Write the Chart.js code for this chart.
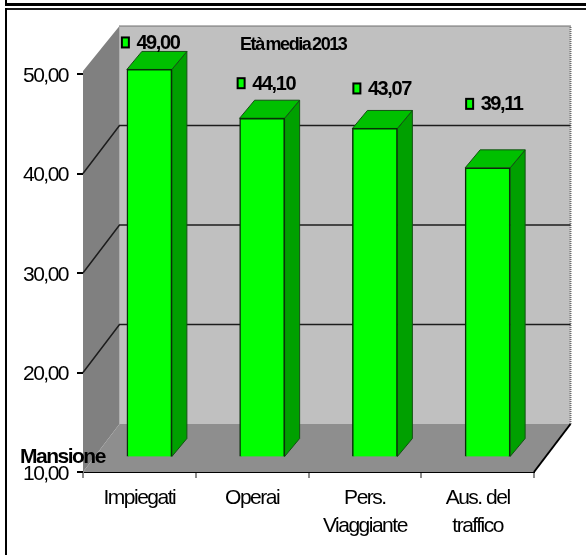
<!DOCTYPE html>
<html>
<head>
<meta charset="utf-8">
<title>Età media 2013</title>
<script src="https://cdn.jsdelivr.net/npm/chart.js@4"></script>
<style>
    html, body { margin: 0; padding: 0; background: #fff; overflow: hidden; }
    #wrap { position: relative; width: 586px; height: 555px; }
    .rule { position: absolute; background: #000; }
</style>
</head>
<body>
<div id="wrap">
    <canvas id="etaChart" width="586" height="555"></canvas>
    <!-- page rules around the chart -->
    <div class="rule" style="left:5px;top:0;width:2px;height:4px"></div>
    <div class="rule" style="left:5px;top:3px;width:581px;height:3px"></div>
    <div class="rule" style="left:5px;top:8px;width:581px;height:2px;background:#1a1a1a"></div>
    <div class="rule" style="left:5px;top:8px;width:2px;height:547px"></div>
</div>
<script>
// Data
const categories = ['Impiegati', 'Operai', ['Pers.', 'Viaggiante'], ['Aus. del', 'traffico']];
const etaMedia = [49.00, 44.10, 43.07, 39.11];
const tickValues = [10, 20, 30, 40, 50];
const chartTitle = 'Età media 2013';
const axisTitle = 'Mansione';

// Hand placed value labels: how far above and left of each bar top they sit
const labelLift = [27, 35, 40, 64];
const labelLeft = [24, 21, 18, 18];

// 3D look: the back wall is this far from the front plane, bars stand part way in
const WALL_DX = 36.5, WALL_DY = -48;
const BAR_DX = 10, BAR_DY = -14.5;
const BAR_DEPTH_X = 15, BAR_DEPTH_Y = -18;

const formatIt = v => v.toFixed(2).replace('.', ',');

function poly(ctx, pts, fill, stroke, width) {
    ctx.beginPath();
    pts.forEach((p, i) => i ? ctx.lineTo(p[0], p[1]) : ctx.moveTo(p[0], p[1]));
    ctx.closePath();
    ctx.fillStyle = fill;
    ctx.fill();
    if (stroke) {
        ctx.strokeStyle = stroke;
        ctx.lineWidth = width || 1;
        ctx.stroke();
    }
}

function drawText(ctx, text, x, y, font, spacing, wordSpacing) {
    ctx.save();
    ctx.font = font;
    ctx.letterSpacing = spacing;
    ctx.wordSpacing = wordSpacing || '0px';
    ctx.fillStyle = '#000';
    ctx.textAlign = 'left';
    ctx.textBaseline = 'middle';
    ctx.fillText(text, x, y);
    ctx.restore();
}

// Walls, floor and grid behind the bars
const wallsPlugin = {
    id: 'walls',
    beforeDraw(chart) {
        chart.ctx.letterSpacing = '-1.5px';
    },
    beforeDatasetsDraw(chart) {
        const ctx = chart.ctx;
        const { x: xs, y: ys } = chart.scales;
        const l = xs.left, r = xs.right, t = ys.top, b = ys.bottom;
        const dx = WALL_DX, dy = WALL_DY;

        ctx.save();
        // back wall
        poly(ctx, [[l + dx, t + dy], [r + dx, t + dy], [r + dx, b + dy], [l + dx, b + dy]], '#c0c0c0');
        ctx.strokeStyle = '#6e6e6e';
        ctx.lineWidth = 2;
        ctx.setLineDash([1, 1]);
        ctx.beginPath();
        ctx.moveTo(l + dx, t + dy);
        ctx.lineTo(r + dx, t + dy);
        ctx.lineTo(r + dx, b + dy);
        ctx.stroke();
        ctx.setLineDash([]);
        // side wall
        poly(ctx, [[l, t - 3], [l + dx, t + dy], [l + dx, b + dy], [l, b]], '#808080');
        // floor
        poly(ctx, [[l, b], [l + dx, b + dy], [r + dx, b + dy], [r, b]], '#8e8e8e');
        ctx.strokeStyle = '#000';
        ctx.lineWidth = 2;
        ctx.beginPath();
        ctx.moveTo(r, b);
        ctx.lineTo(r + dx, b + dy);
        ctx.stroke();

        // grid lines run along the side wall and across the back wall
        ctx.strokeStyle = '#1c1c1c';
        ctx.lineWidth = 1.5;
        tickValues.slice(1, -1).forEach(v => {
            const py = ys.getPixelForValue(v);
            ctx.beginPath();
            ctx.moveTo(l, py);
            ctx.lineTo(l + dx, py + dy);
            ctx.lineTo(r + dx, py + dy);
            ctx.stroke();
        });
        ctx.restore();
    },
    // top and side faces go in first, the library then draws the front face on the shifted plane
    beforeDatasetDraw(chart, args) {
        const ctx = chart.ctx;
        const ddx = BAR_DEPTH_X, ddy = BAR_DEPTH_Y;
        ctx.save();
        ctx.translate(BAR_DX, BAR_DY);
        args.meta.data.forEach(bar => {
            const p = bar.getProps(['x', 'y', 'base', 'width']);
            const x0 = p.x - p.width / 2, x1 = p.x + p.width / 2;
            poly(ctx, [[x1, p.y], [x1 + ddx, p.y + ddy], [x1 + ddx, p.base + ddy], [x1, p.base]], '#00a000', '#155015', 1);
            poly(ctx, [[x0, p.y], [x0 + ddx, p.y + ddy], [x1 + ddx, p.y + ddy], [x1, p.y]], '#00c000', '#155015', 1);
        });
    },
    afterDatasetDraw(chart) {
        chart.ctx.restore();
    },
    afterDraw(chart) {
        const ctx = chart.ctx;
        const meta = chart.getDatasetMeta(0);
        meta.data.forEach((bar, i) => {
            const mx = bar.x + BAR_DX - labelLeft[i];
            const my = bar.y + BAR_DY - labelLift[i];
            ctx.save();
            ctx.fillStyle = '#00ff00';
            ctx.strokeStyle = '#000';
            ctx.lineWidth = 2;
            ctx.fillRect(mx - 3.5, my - 5, 7, 10);
            ctx.strokeRect(mx - 3.5, my - 5, 7, 10);
            ctx.restore();
            drawText(ctx, formatIt(etaMedia[i]), mx + 11, my + 1, 'bold 20px "Liberation Sans"', '-1.4px');
        });
        drawText(ctx, chartTitle, 240, 45, 'bold 18px "Liberation Sans"', '-1.4px', '-2px');
        drawText(ctx, axisTitle, 20, 457, 'bold 21px "Liberation Sans"', '-1.5px');
    }
};

new Chart(document.getElementById('etaChart').getContext('2d'), {
    type: 'bar',
    data: {
        labels: categories,
        datasets: [{
            data: etaMedia,
            base: 10,
            backgroundColor: '#00ff00',
            borderColor: '#083008',
            borderWidth: 1.5,
            barThickness: 45,
            clip: false
        }]
    },
    options: {
        responsive: false,
        animation: false,
        layout: { padding: { left: 0, right: 52, top: 74, bottom: 0 } },
        plugins: { legend: { display: false }, tooltip: { enabled: false } },
        scales: {
            x: {
                afterFit(scale) { scale.height = 83; },
                border: { display: true, color: '#000', width: 2, dash: [1, 1] },
                grid: { drawOnChartArea: false, color: '#8c8c8c', tickLength: 6, lineWidth: 2 },
                ticks: {
                    color: '#000',
                    maxRotation: 0,
                    autoSkip: false,
                    padding: 7,
                    font: { family: '"Liberation Sans"', size: 21, lineHeight: 1.3 }
                }
            },
            y: {
                min: 10,
                max: 50,
                afterFit(scale) { scale.width = 83; },
                afterBuildTicks(scale) { scale.ticks = tickValues.map(v => ({ value: v })); },
                border: { display: true, color: '#808080', width: 1 },
                grid: { drawOnChartArea: false, color: '#000', tickLength: 6, lineWidth: 2 },
                ticks: {
                    color: '#000',
                    padding: 9,
                    labelOffset: 2,
                    callback: formatIt,
                    font: { family: '"Liberation Sans"', size: 21 }
                }
            }
        }
    },
    plugins: [wallsPlugin]
});
</script>
</body>
</html>
